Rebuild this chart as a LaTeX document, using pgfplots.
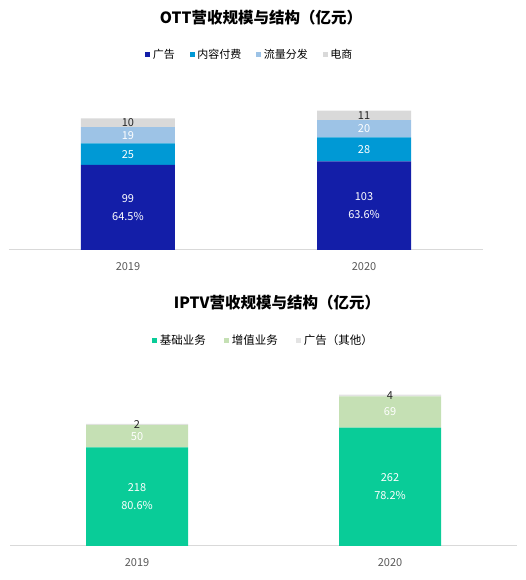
\documentclass[border=0pt]{standalone}
\usepackage{pgfplots}
\pgfplotsset{compat=1.18}
\usepackage{fontspec}
\setmainfont{Noto Sans CJK SC}
\definecolor{c1}{HTML}{131EA8}
\definecolor{c2}{HTML}{0099D5}
\definecolor{c3}{HTML}{9DC3E6}
\definecolor{c4}{HTML}{D9D9D9}
\definecolor{g1}{HTML}{09CC98}
\definecolor{g2}{HTML}{C5E0B4}
\definecolor{g3}{HTML}{E3E3E3}
\definecolor{axgray}{HTML}{D9D9D9}
\definecolor{tickgray}{HTML}{595959}
\definecolor{lbldark}{HTML}{262626}
\pgfplotsset{
  common/.style={scale only axis, ymin=0, clip=false,
    axis x line*=bottom, axis y line=none,
    x axis line style={axgray, line width=1pt},
    xtick={0,1}, xticklabels={2019,2020}, ytick=\empty,
    major tick length=0pt,
    xticklabel style={font=\fontsize{11}{13}\selectfont, text=tickgray, yshift=-9pt},
    legend cell align=left,
  },
  topax/.style={common, width=474pt, height=154.8pt, xmin=-0.504, xmax=1.504, ymax=180},
  botax/.style={common, width=507pt, height=162.7pt, xmin=-0.502, xmax=1.502, ymax=360},
  lbl/.style={draw=none, mark=none, nodes near coords, point meta=explicit symbolic,
    every node near coord/.append style={anchor=center, font=\fontsize{11}{13}\selectfont, text=white, inner sep=0pt}},
  lbldk/.style={lbl, every node near coord/.append style={text=lbldark}},
  lblup/.style={lbl, every node near coord/.append style={yshift=9pt}},
  lbldn/.style={lbl, every node near coord/.append style={yshift=-9pt}},
}
\begin{document}
\begin{tikzpicture}[x=1pt,y=1pt]
\useasboundingbox (0,0) rectangle (526,580);
\node[font=\bfseries\fontsize{15.5}{18}\selectfont] at (261,562) {OTT营收规模与结构（亿元）};
\node[font=\bfseries\fontsize{15.5}{18}\selectfont] at (277,277) {IPTV营收规模与结构（亿元）};
% ---------- OTT ----------
\begin{axis}[topax, at={(9pt,330pt)}, anchor=south west,
  ybar stacked, bar width=94pt,
  legend style={at={(0.507,1.26)}, anchor=center, draw=none, fill=none, legend columns=-1,
    font=\fontsize{11}{13}\selectfont, inner sep=0pt,
    nodes={inner sep=1pt},
    /tikz/every odd column/.append style={column sep=1.5pt},
    /tikz/every even column/.append style={column sep=14pt}},
  legend image code/.code={\fill[#1] (0pt,-2.5pt) rectangle (5pt,2.5pt);},
]
\addplot[fill=c1, draw=none] coordinates {(0,99) (1,103)};
\addplot[fill=c2, draw=none] coordinates {(0,25) (1,28)};
\addplot[fill=c3, draw=none] coordinates {(0,19) (1,20)};
\addplot[fill=c4, draw=none] coordinates {(0,10) (1,11)};
\legend{广告,内容付费,流量分发,电商}
\end{axis}
\begin{axis}[topax, at={(9pt,330pt)}, anchor=south west, hide axis]
\addplot[lblup] coordinates {(0,49.5) [99] (1,51.5) [103]};
\addplot[lbldn] coordinates {(0,49.5) [64.5\%] (1,51.5) [63.6\%]};
\addplot[lbl] coordinates {(0,111.5) [25] (1,117) [28]};
\addplot[lbl] coordinates {(0,133.5) [19] (1,141) [20]};
\addplot[lbldk] coordinates {(0,148) [10] (1,156.5) [11]};
\end{axis}
% ---------- IPTV ----------
\begin{axis}[botax, at={(10pt,34pt)}, anchor=south west,
  ybar stacked, bar width=102pt,
  legend style={at={(0.499,1.266)}, anchor=center, draw=none, fill=none, legend columns=-1,
    font=\fontsize{11.5}{13}\selectfont, inner sep=0pt,
    nodes={inner sep=1pt},
    /tikz/every odd column/.append style={column sep=2pt},
    /tikz/every even column/.append style={column sep=17pt}},
  legend image code/.code={\fill[#1] (0pt,-2.5pt) rectangle (5pt,2.5pt);},
]
\addplot[fill=g1, draw=none] coordinates {(0,218) (1,262)};
\addplot[fill=g2, draw=none] coordinates {(0,50) (1,69)};
\addplot[fill=g3, draw=none] coordinates {(0,2) (1,4)};
\legend{基础业务,增值业务,广告（其他）}
\end{axis}
\begin{axis}[botax, at={(10pt,34pt)}, anchor=south west, hide axis]
\addplot[lblup] coordinates {(0,109) [218] (1,131) [262]};
\addplot[lbldn] coordinates {(0,109) [80.6\%] (1,131) [78.2\%]};
\addplot[lbl] coordinates {(0,243) [50] (1,296.5) [69]};
\addplot[lbldk] coordinates {(0,269) [2] (1,333) [4]};
\end{axis}
\end{tikzpicture}
\end{document}
